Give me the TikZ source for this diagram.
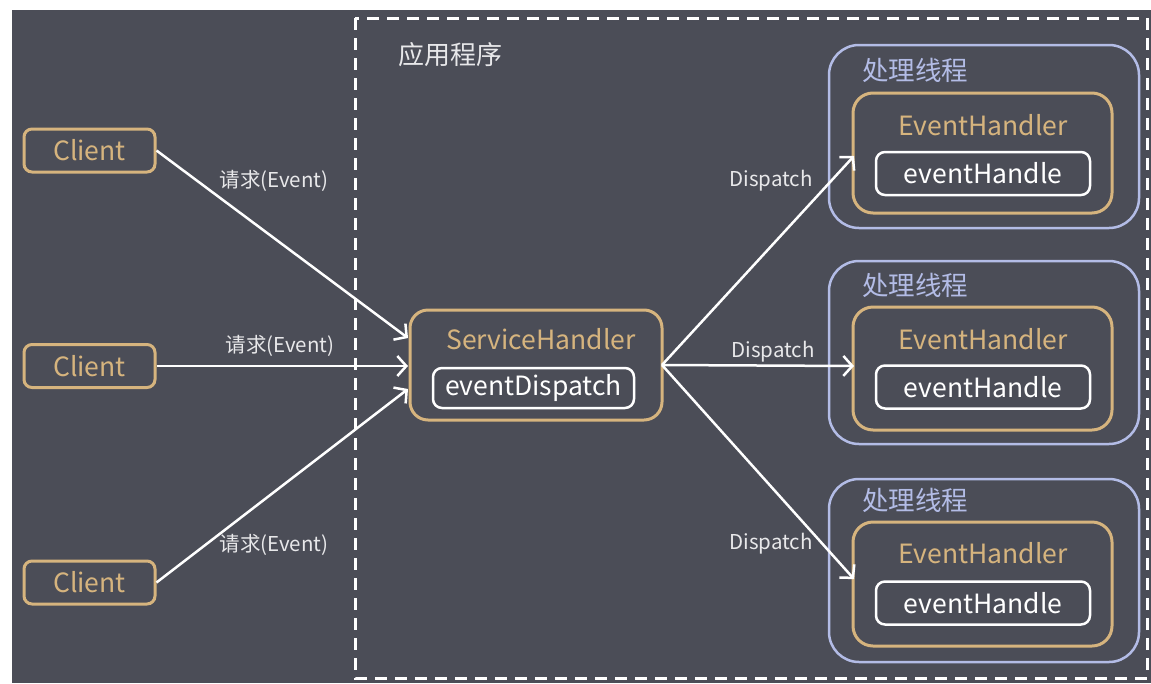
\documentclass[tikz,border=0pt]{standalone}
\usepackage{fontspec}
\setmainfont{Noto Sans CJK SC}
\usetikzlibrary{arrows.meta}
\definecolor{bgc}{HTML}{4B4D57}
\definecolor{orng}{HTML}{D6B47E}
\definecolor{blu}{HTML}{B3BCE6}
\definecolor{lbl}{HTML}{E8E8EA}
\tikzset{
  obox/.style={draw=orng, line width=3pt, rounded corners=#1, inner sep=0pt},
  obox/.default=8pt,
  bbox/.style={draw=blu, line width=2.5pt, rounded corners=30pt, inner sep=0pt},
  wbox/.style={draw=white, line width=2.5pt, rounded corners=9pt, inner sep=0pt, text=white, font=\fontsize{26.5}{30}\selectfont},
  otext/.style={text=orng, font=\fontsize{26.5}{30}\selectfont, inner sep=0pt},
  btext/.style={text=blu, font=\fontsize{26.5}{30}\selectfont, inner sep=0pt},
  elabel/.style={text=lbl, font=\fontsize{20.5}{24}\selectfont, inner sep=0pt},
  conn/.style={draw=white, line width=2.5pt, -{Straight Barb[length=9pt,width=20pt,line width=2.5pt]}}
}
\begin{document}
\begin{tikzpicture}[x=1pt,y=-1pt]
\useasboundingbox (0,0) rectangle (1151,683);
\fill[white] (0,0) rectangle (1151,683);
\fill[bgc] (12,10) rectangle (1151,683);
% application dashed box
\draw[white, line width=3pt, dash pattern=on 12pt off 8pt] (355,18) rectangle (1147,678);
\node[text=lbl, font=\fontsize{26}{30}\selectfont, inner sep=0pt, anchor=west] (app) at (398,55) {应用程序};
% clients
\foreach \i/\y in {1/150.5,2/366,3/582.5}{
  \node[obox, minimum width=131pt, minimum height=43pt, otext] (c\i) at (89.5,\y) {Client};
}
% service handler
\node[obox=18pt, minimum width=252pt, minimum height=110pt] (sh) at (536,365) {};
\node[otext] (shl) at (541,339) {ServiceHandler};
\node[wbox, minimum width=201pt, minimum height=40pt] (ed) at (533.5,388) {eventDispatch};
% threads
\foreach \i/\ty/\ey/\ly/\hy/\tly/\eh in {1/136.5/153/125/173.5/70/120, 2/352.5/368.5/339/387/285/123, 3/570.5/584/553/603/500/124}{
  \node[bbox, minimum width=310pt, minimum height=183pt] (t\i) at (984,\ty) {};
  \node[btext, anchor=west] (tl\i) at (862,\tly) {处理线程};
  \node[obox=20pt, minimum width=259pt, minimum height=\eh pt] (eh\i) at (982.5,\ey) {};
  \node[otext] (ehl\i) at (983,\ly) {EventHandler};
  \node[wbox, minimum width=214pt, minimum height=43pt] (h\i) at (983,\hy) {eventHandle};
}
% arrow endpoints on box edges
\coordinate (in1) at (408,338);
\coordinate (in2) at (408,366);
\coordinate (in3) at (408,389);
\coordinate (out1) at (854,156);
\coordinate (out2) at (854,366);
\coordinate (out3) at (854,579);
\coordinate (sho) at (662,365);
\draw[conn] (c1.east) -- (in1);
\draw[conn] (c2.east) -- (in2);
\draw[conn] (c3.east) -- (in3);
\draw[conn] (sho) -- (out1);
\draw[conn] (sho) -- (out2);
\draw[conn] (sho) -- (out3);
% labels
\node[elabel] (r1) at (274,181) {请求(Event)};
\node[elabel] (r2) at (280,346) {请求(Event)};
\node[elabel] (r3) at (274,545) {请求(Event)};
\node[elabel] (d1) at (771,181) {Dispatch};
\node[elabel] (d2) at (773,352) {Dispatch};
\node[elabel] (d3) at (771,544) {Dispatch};
\end{tikzpicture}
\end{document}
